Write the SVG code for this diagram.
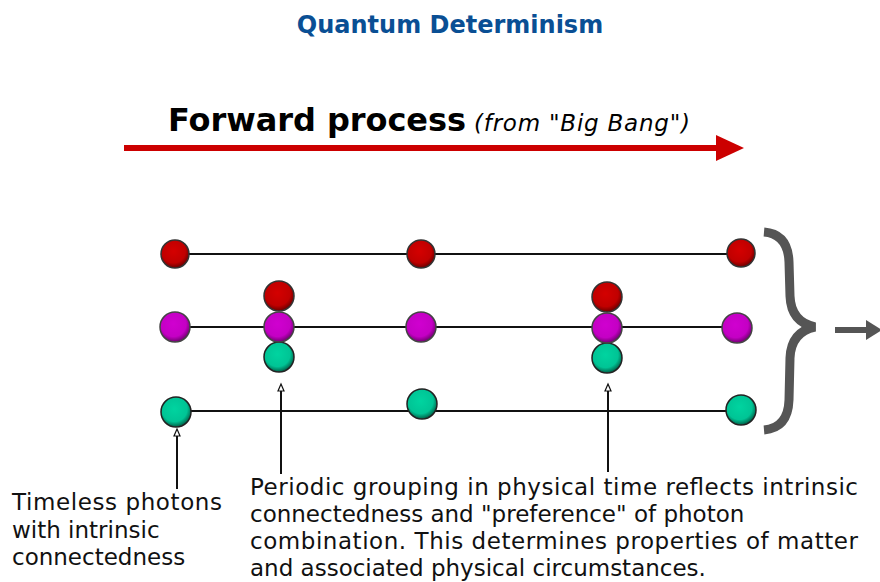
<svg xmlns="http://www.w3.org/2000/svg" width="880" height="582" viewBox="0 0 880 582">
<defs>
<radialGradient id="gRed" cx="0.45" cy="0.4" r="0.6">
<stop offset="0" stop-color="#d40000"/><stop offset="0.7" stop-color="#c00000"/><stop offset="1" stop-color="#6a0000"/>
</radialGradient>
<radialGradient id="gMag" cx="0.45" cy="0.4" r="0.6">
<stop offset="0" stop-color="#d000d0"/><stop offset="0.7" stop-color="#c400c4"/><stop offset="1" stop-color="#700070"/>
</radialGradient>
<radialGradient id="gTeal" cx="0.45" cy="0.4" r="0.6">
<stop offset="0" stop-color="#00d4a0"/><stop offset="0.7" stop-color="#00c495"/><stop offset="1" stop-color="#006048"/>
</radialGradient>
</defs>
<style>
.title{font-family:"DejaVu Sans",Verdana,sans-serif;font-weight:bold;font-size:24px;fill:#0a4f94}
.fwd{font-family:"DejaVu Sans",Verdana,sans-serif;font-weight:bold;font-size:32px;fill:#000}
.sub{font-family:"DejaVu Sans",Verdana,sans-serif;font-style:italic;font-size:23px;fill:#000}
.lbl{font-family:"DejaVu Sans",Tahoma,sans-serif;font-size:23px;fill:#111}
.row{stroke:#111;stroke-width:2;fill:none}
.ptr{stroke:#111;stroke-width:2;fill:none}
.head{fill:#fff;stroke:#111;stroke-width:1.2}
.red{fill:url(#gRed);stroke:#333;stroke-width:1.5}
.mag{fill:url(#gMag);stroke:#444;stroke-width:1.5}
.teal{fill:url(#gTeal);stroke:#222;stroke-width:1.5}
</style>
<rect width="880" height="582" fill="#fff"/>
<text class="title" x="450" y="33" text-anchor="middle">Quantum Determinism</text>
<g id="forward">
<text class="fwd" x="168" y="131" textLength="298">Forward process</text>
<text class="sub" x="474" y="131" textLength="216">(from "Big Bang")</text>
<line x1="124" y1="148" x2="720" y2="148" stroke="#cc0000" stroke-width="6"/>
<path d="M716,135 L744,148 L716,161 Z" fill="#cc0000"/>
</g>
<g id="connectors">
<line class="row" x1="175" y1="254" x2="741" y2="254"/>
<line class="row" x1="175" y1="327" x2="737" y2="327"/>
<line class="row" x1="176" y1="411" x2="741" y2="411"/>
<line class="ptr" x1="177" y1="489" x2="177" y2="436"/>
<path class="head" d="M177,429 L180,436 L174,436 Z"/>
<line class="ptr" x1="281" y1="474" x2="281" y2="391"/>
<path class="head" d="M281,384 L284,391 L278,391 Z"/>
<line class="ptr" x1="608" y1="472" x2="608" y2="391"/>
<path class="head" d="M608,384 L611,391 L605,391 Z"/>
</g>
<g id="row-red">
<circle class="red" cx="175" cy="254" r="14"/>
<circle class="red" cx="421" cy="254" r="14"/>
<circle class="red" cx="741" cy="253" r="14"/>
</g>
<g id="row-magenta">
<circle class="mag" cx="175" cy="327" r="15"/>
<circle class="mag" cx="421" cy="327" r="15"/>
<circle class="mag" cx="737" cy="328" r="15"/>
</g>
<g id="row-teal">
<circle class="teal" cx="176" cy="412" r="15"/>
<circle class="teal" cx="422" cy="404" r="15"/>
<circle class="teal" cx="741" cy="410" r="15"/>
</g>
<g id="group1">
<circle class="red" cx="279" cy="296" r="15"/>
<circle class="teal" cx="279" cy="357" r="15"/>
<circle class="mag" cx="279" cy="327" r="15"/>
</g>
<g id="group2">
<circle class="red" cx="607" cy="297" r="15"/>
<circle class="teal" cx="607" cy="358" r="15"/>
<circle class="mag" cx="607" cy="328" r="15"/>
</g>
<g id="brace">
<path d="M764,232 Q788,234 789,262 L790,296 Q791,322 815,327 Q791,332 790,358 L789,400 Q788,428 764,430" fill="none" stroke="#555" stroke-width="9"/>
<line x1="835" y1="330" x2="868" y2="330" stroke="#555" stroke-width="6"/>
<path d="M866,320 L882,330 L866,340 Z" fill="#555"/>
</g>
<g id="label-left">
<text class="lbl" x="12" y="510" textLength="210">Timeless photons</text>
<text class="lbl" x="12" y="538">with intrinsic</text>
<text class="lbl" x="12" y="565">connectedness</text>
</g>
<g id="label-right">
<text class="lbl" x="250" y="495" textLength="608">Periodic grouping in physical time reflects intrinsic</text>
<text class="lbl" x="250" y="522">connectedness and "preference" of photon</text>
<text class="lbl" x="250" y="549" textLength="608">combination. This determines properties of matter</text>
<text class="lbl" x="250" y="576">and associated physical circumstances.</text>
</g>
</svg>
